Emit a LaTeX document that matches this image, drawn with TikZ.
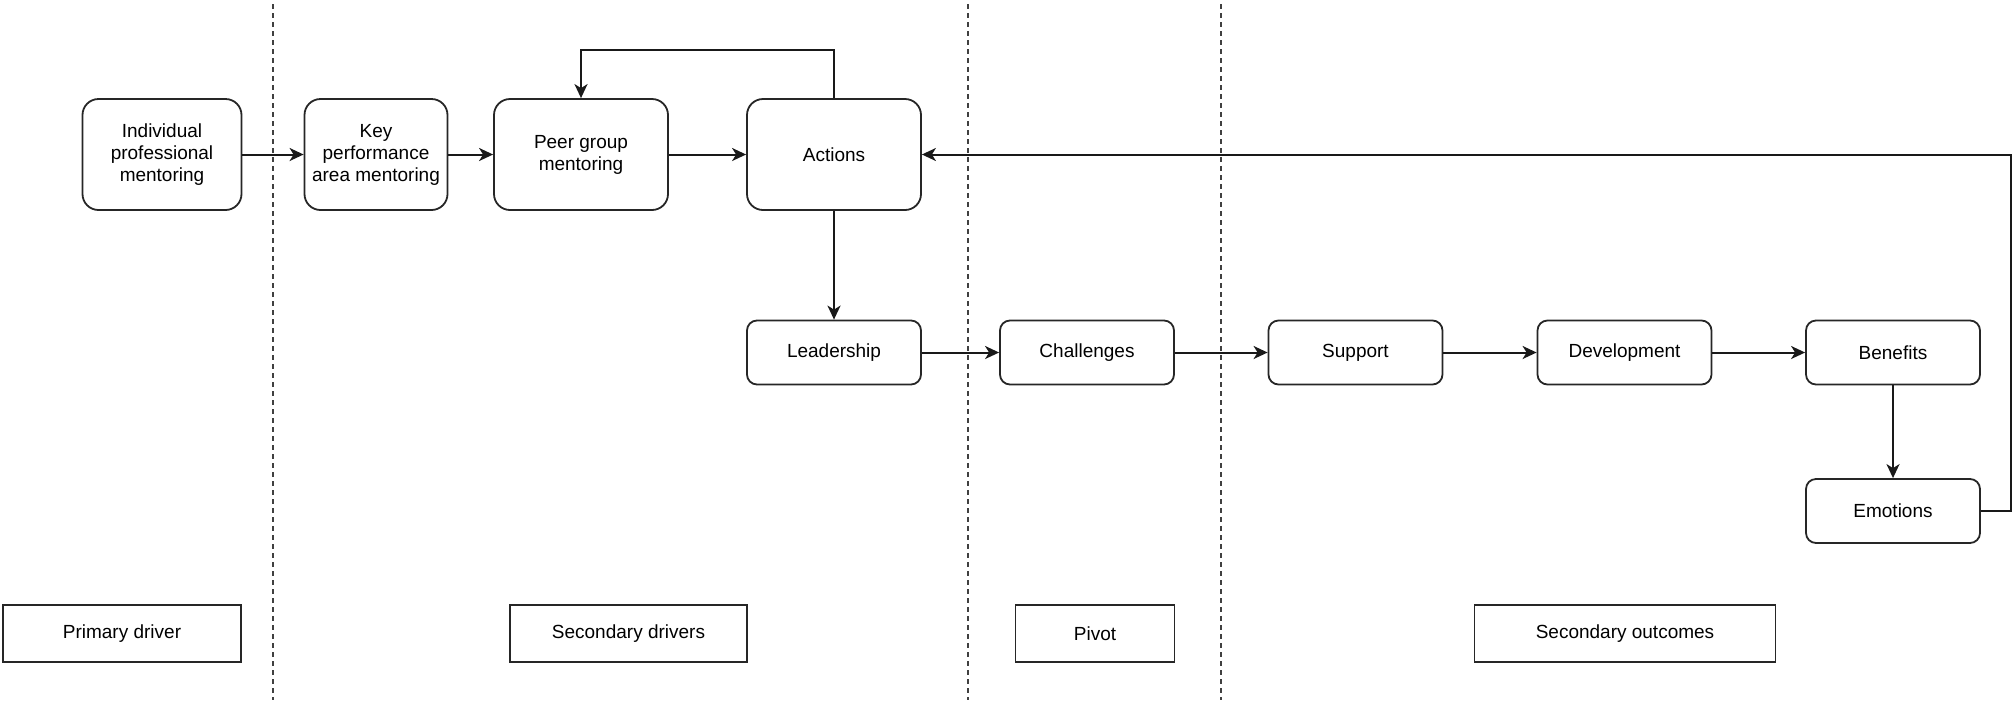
\documentclass[tikz,border=0pt]{standalone}
\usepackage{fontspec}
\setmainfont{Liberation Sans}
\usetikzlibrary{arrows.meta}

\begin{document}
\begin{tikzpicture}[x=0.5pt,y=-0.5pt,
  box/.style={draw=black!85,line width=0.9pt,rounded corners=8pt,align=center,
    inner sep=2pt,minimum height=55.5pt,font=\fontsize{9.5}{11}\selectfont},
  flatbox/.style={box,rounded corners=5pt,minimum height=32pt},
  tag/.style={draw=black!85,line width=0.9pt,minimum height=28.5pt,
    font=\fontsize{9.5}{11}\selectfont},
  flow/.style={line width=1pt,draw=black!90,-{Stealth[length=7pt,width=6.5pt,inset=2pt]}},
  divider/.style={line width=0.7pt,draw=black!75,dash pattern=on 2.5pt off 2pt}]
\useasboundingbox (0,0) rectangle (2014,703);
\foreach \x in {273,968,1221}
  \draw[divider] (\x,4) -- (\x,700);
\node [box,minimum width=79.5pt] (indiv) at (162,154.5) {Individual\\professional\\mentoring};
\node [box,minimum width=71.5pt] (key) at (376,154.5) {Key\\performance\\area mentoring};
\node [box,minimum width=87pt] (peer) at (581,154.5) {Peer group\\mentoring};
\node [box,minimum width=87pt] (actions) at (834,154.5) {Actions};
\node [flatbox,minimum width=87pt] (leader) at (834,352.5) {Leadership};
\node [flatbox,minimum width=87pt] (chall) at (1087,352.5) {Challenges};
\node [flatbox,minimum width=87pt] (support) at (1355.5,352.5) {Support};
\node [flatbox,minimum width=87pt] (devel) at (1624.5,352.5) {Development};
\node [flatbox,minimum width=87pt] (benef) at (1893,352.5) {Benefits};
\node [flatbox,minimum width=87pt] (emot) at (1893,511) {Emotions};
\coordinate (ret) at (2011,511);
\node [tag,minimum width=119pt] (primary) at (122,633.5) {Primary driver};
\node [tag,minimum width=118.5pt] (secdrv) at (628.5,633.5) {Secondary drivers};
\node [tag,minimum width=79.5pt] (pivot) at (1095,633.5) {Pivot};
\node [tag,minimum width=150.5pt] (secout) at (1625,633.5) {Secondary outcomes};
\draw[flow] (indiv) -- (key);
\draw[flow] (key) -- (peer);
\draw[flow] (peer) -- (actions);
\draw[flow] (actions.north) -- ++(0,-48) -| (peer.north);
\draw[flow] (actions) -- (leader);
\draw[flow] (leader) -- (chall);
\draw[flow] (chall) -- (support);
\draw[flow] (support) -- (devel);
\draw[flow] (devel) -- (benef);
\draw[flow] (benef) -- (emot);
\draw[flow] (emot) -- (ret) |- (actions);
\end{tikzpicture}
\end{document}
